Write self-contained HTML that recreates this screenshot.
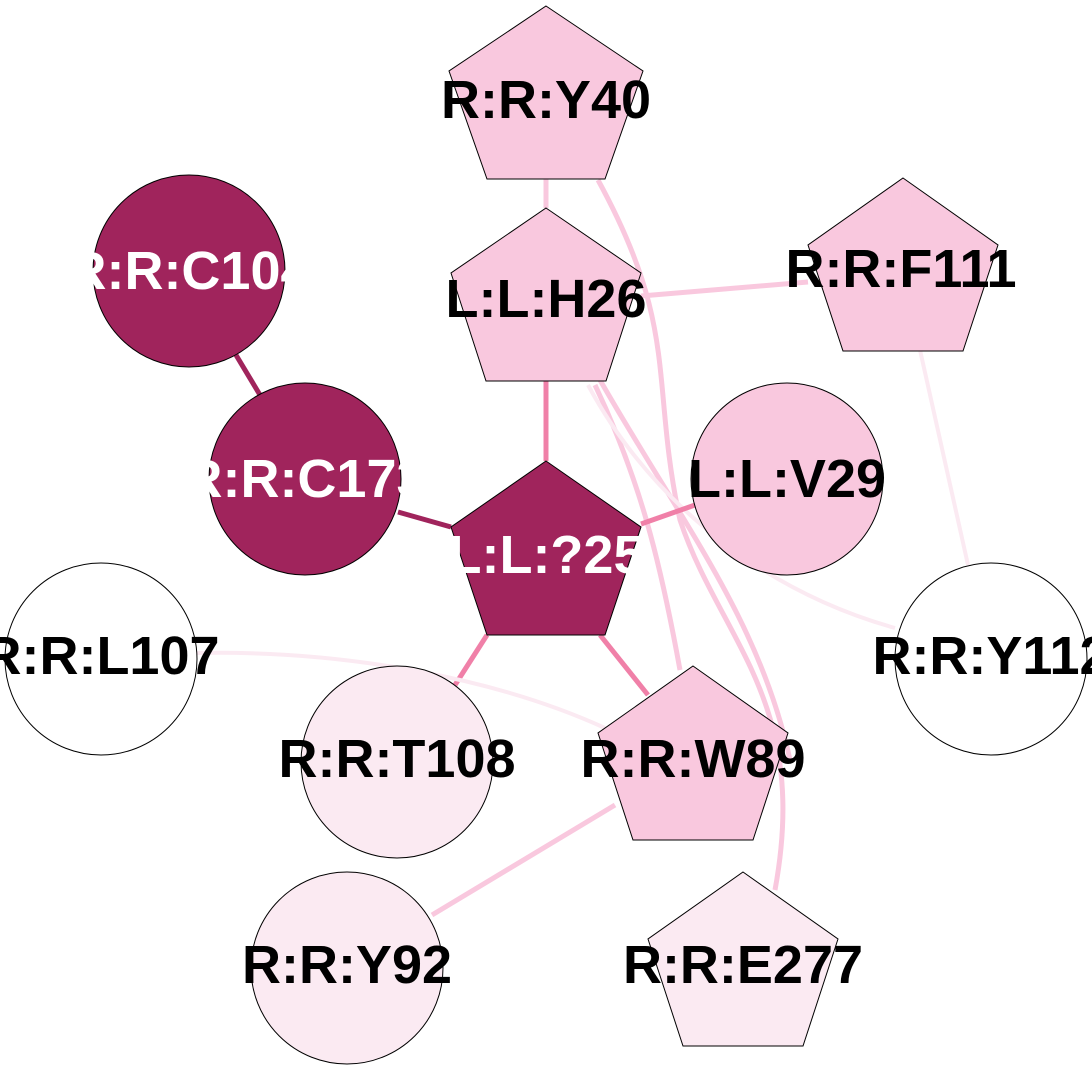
<!DOCTYPE html>
<html><head><meta charset="utf-8"><style>
html,body{margin:0;padding:0;background:#fff;}
svg{display:block;}
text{font-family:"Liberation Sans",Arial,sans-serif;font-weight:bold;font-size:54px;text-anchor:middle;dominant-baseline:central;}
</style></head><body>
<svg width="1092" height="1070" viewBox="0 0 1092 1070" xmlns="http://www.w3.org/2000/svg">
<g fill="none" stroke-linecap="butt">
<path d="M546,179 L546,208" stroke="#f9c8de" stroke-width="5"/>
<path d="M598,180 C680,330 650,380 680,520 C720,640 810,700 775,890" stroke="#f9c8de" stroke-width="5"/>
<path d="M600,380 C680,520 760,620 790,760" stroke="#f9c8de" stroke-width="5"/>
<path d="M595,385 C640,480 660,560 680,670" stroke="#f9c8de" stroke-width="5"/>
<path d="M588,385 C650,500 760,590 895,628" stroke="#fbeaf2" stroke-width="4"/>
<path d="M641,296 L808,282" stroke="#f9c8de" stroke-width="5"/>
<path d="M920,350 L968,565" stroke="#fbeaf2" stroke-width="4"/>
<path d="M546,381 L546,461" stroke="#f080a8" stroke-width="5"/>
<path d="M236,355 L260,395" stroke="#a0245c" stroke-width="5"/>
<path d="M398,512 L451,527" stroke="#a0245c" stroke-width="5"/>
<path d="M641,524 L695,505" stroke="#f080a8" stroke-width="5"/>
<path d="M487,635 L455,685" stroke="#f080a8" stroke-width="5"/>
<path d="M600,635 L648,695" stroke="#f080a8" stroke-width="5"/>
<path d="M197,653 C350,650 500,680 605,728" stroke="#fbeaf2" stroke-width="4"/>
<path d="M615,805 L432,915" stroke="#f9c8de" stroke-width="5"/>
</g>
<g stroke="#000" stroke-width="1">
<polygon points="546,6 643,71 605,179 487,179 449,71" fill="#f9c8de"/>
<polygon points="546,208 641,273 606,381 486,381 451,273" fill="#f9c8de"/>
<polygon points="903,178 998,245 963,351 843,351 808,245" fill="#f9c8de"/>
<circle cx="189" cy="271" r="96" fill="#a0245c"/>
<circle cx="305" cy="479" r="96" fill="#a0245c"/>
<polygon points="546,461 641,527 605,635 487,635 451,527" fill="#a0245c"/>
<circle cx="787" cy="479" r="96" fill="#f9c8de"/>
<circle cx="101" cy="659" r="96" fill="#fff"/>
<circle cx="991" cy="659" r="96" fill="#fff"/>
<circle cx="397" cy="762" r="96" fill="#fbeaf2"/>
<polygon points="693,666 788,733 753,840 633,840 598,733" fill="#f9c8de"/>
<circle cx="347" cy="968" r="96" fill="#fbeaf2"/>
<polygon points="743,872 838,939 803,1046 683,1046 648,939" fill="#fbeaf2"/>
</g>
<text x="546" y="100">R:R:Y40</text>
<text x="546" y="299">L:L:H26</text>
<text x="901" y="269">R:R:F111</text>
<text x="189" y="271" fill="#fff">R:R:C104</text>
<text x="305" y="479" fill="#fff">R:R:C173</text>
<text x="546" y="555" fill="#fff">L:L:?25</text>
<text x="787" y="479">L:L:V29</text>
<text x="101" y="656">R:R:L107</text>
<text x="991" y="656">R:R:Y112</text>
<text x="397" y="759">R:R:T108</text>
<text x="693" y="759">R:R:W89</text>
<text x="347" y="965">R:R:Y92</text>
<text x="743" y="965">R:R:E277</text>
</svg>
</body></html>
